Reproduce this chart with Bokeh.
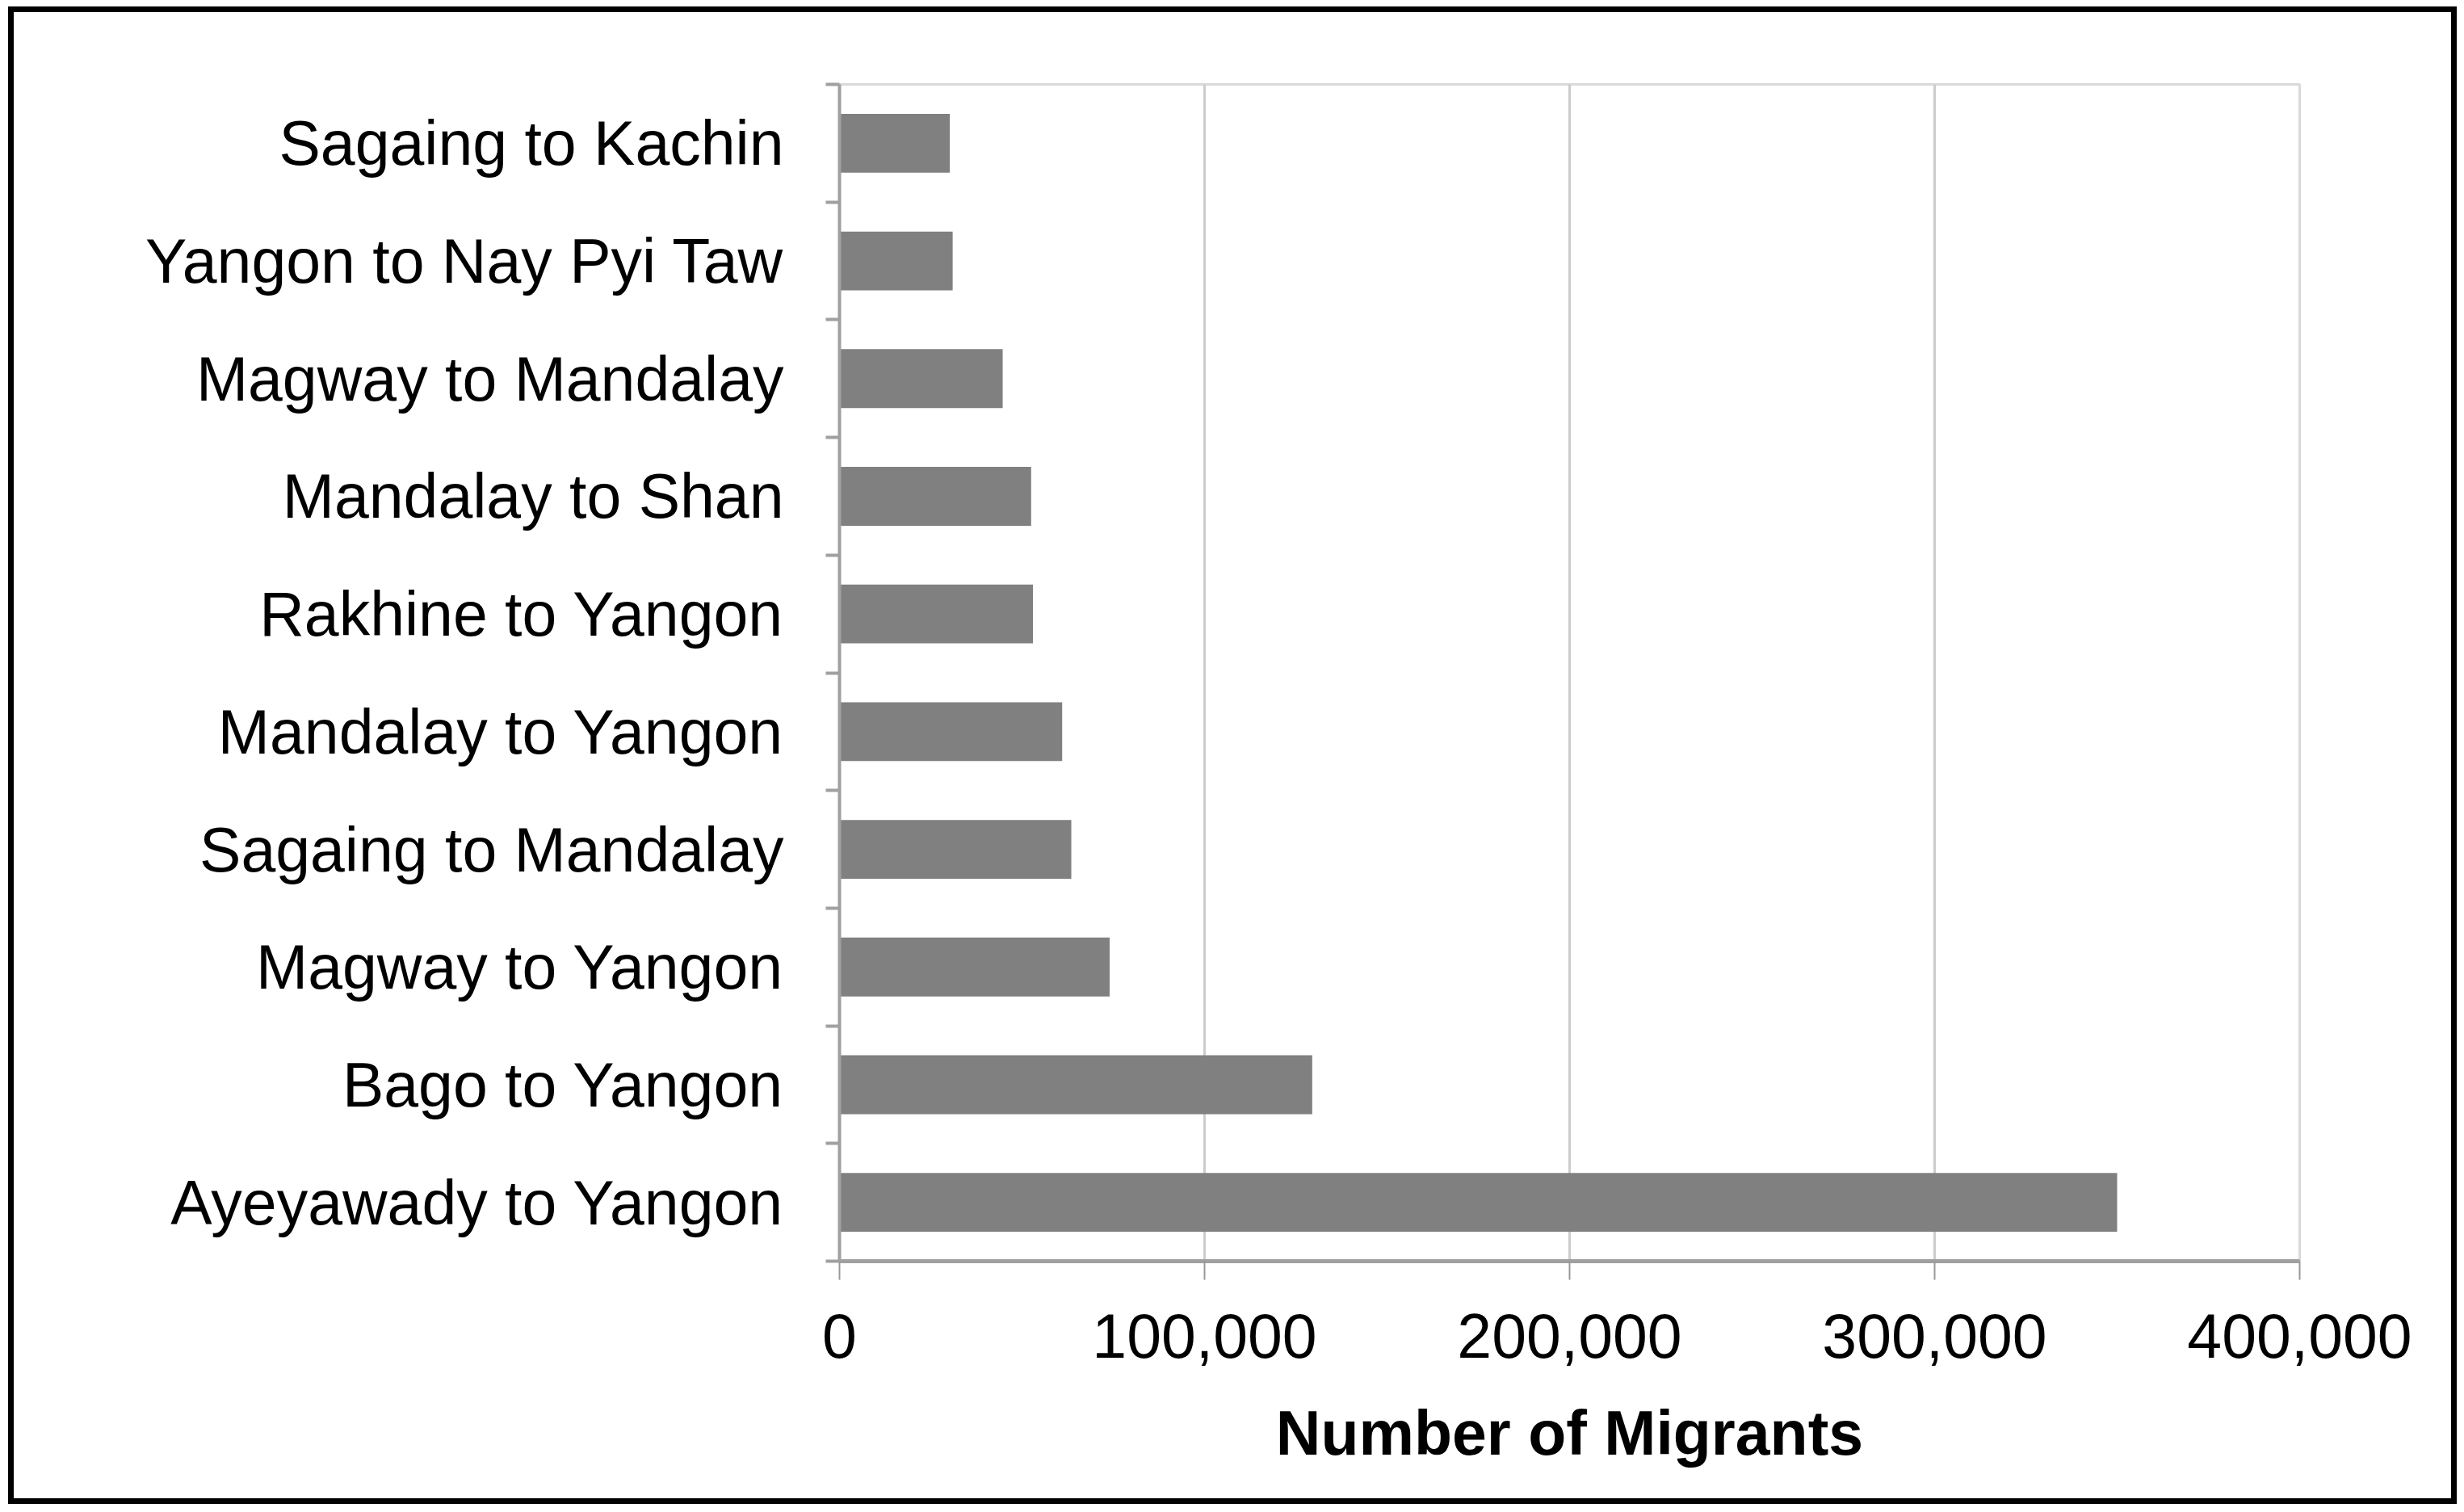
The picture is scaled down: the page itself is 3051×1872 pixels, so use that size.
from bokeh.plotting import figure
from bokeh.models import Range1d, FixedTicker, NumeralTickFormatter
from bokeh.embed import file_html
from bokeh.resources import INLINE

# Data (bottom to top, as drawn)
categories = [
    "Ayeyawady to Yangon",
    "Bago to Yangon",
    "Magway to Yangon",
    "Sagaing to Mandalay",
    "Mandalay to Yangon",
    "Rakhine to Yangon",
    "Mandalay to Shan",
    "Magway to Mandalay",
    "Yangon to Nay Pyi Taw",
    "Sagaing to Kachin",
]
migrants = [350000, 129500, 74000, 63500, 61000, 53000, 52500, 44700, 31000, 30200]
x_ticks = [0, 100000, 200000, 300000, 400000]

n = len(categories)
centers = [i + 0.5 for i in range(n)]
boundaries = list(range(n + 1))

FONT = "Liberation Sans"

p = figure(
    width=3032, height=1854,
    x_range=Range1d(0, 400000), y_range=Range1d(0, n),
    output_backend="svg", toolbar_location=None,
    min_border_left=1022, min_border_right=202,
    min_border_top=89, min_border_bottom=308,
    background_fill_color="white", border_fill_color="white",
)
p.styles = {
    "border": "7px solid black",
    "box-sizing": "border-box",
    "overflow": "hidden",
    "margin-left": "10px",
    "margin-top": "8px",
}

p.hbar(y=centers, right=migrants, left=0, height=0.5,
       fill_color="#808080", line_color=None)

# x axis
xa = p.xaxis[0]
xa.ticker = FixedTicker(ticks=x_ticks)
xa.formatter = NumeralTickFormatter(format="0,0")
xa.axis_line_color = "#a0a0a0"
xa.axis_line_width = 5
xa.major_tick_line_color = "#999999"
xa.major_tick_line_width = 2
xa.major_tick_out = 23
xa.major_tick_in = 0
xa.minor_tick_line_color = None
xa.major_label_text_font = FONT
xa.major_label_text_font_size = "77px"
xa.major_label_text_color = "black"
xa.major_label_standoff = 42
xa.axis_label = "Number of Migrants"
xa.axis_label_text_font = FONT
xa.axis_label_text_font_style = "bold"
xa.axis_label_text_font_size = "77px"
xa.axis_label_text_color = "black"
xa.axis_label_standoff = 47

# y axis: labels at category centres, ticks at category boundaries
ya = p.yaxis[0]
ya.ticker = FixedTicker(ticks=centers, minor_ticks=boundaries)
ya.major_label_overrides = {c: lab for c, lab in zip(centers, categories)}
ya.axis_line_color = "#a0a0a0"
ya.axis_line_width = 4
ya.major_tick_line_color = None
ya.major_tick_out = 0
ya.major_tick_in = 0
ya.minor_tick_line_color = "#a0a0a0"
ya.minor_tick_line_width = 4
ya.minor_tick_out = 17
ya.minor_tick_in = 0
ya.major_label_text_font = FONT
ya.major_label_text_font_size = "77px"
ya.major_label_text_color = "black"
ya.major_label_standoff = 52

p.xgrid.ticker = FixedTicker(ticks=x_ticks)
p.xgrid.grid_line_color = "#cccccc"
p.xgrid.grid_line_width = 3
p.ygrid.grid_line_color = None

p.outline_line_color = "#d9d9d9"
p.outline_line_width = 3

open("out.html", "w").write(file_html(p, INLINE))
